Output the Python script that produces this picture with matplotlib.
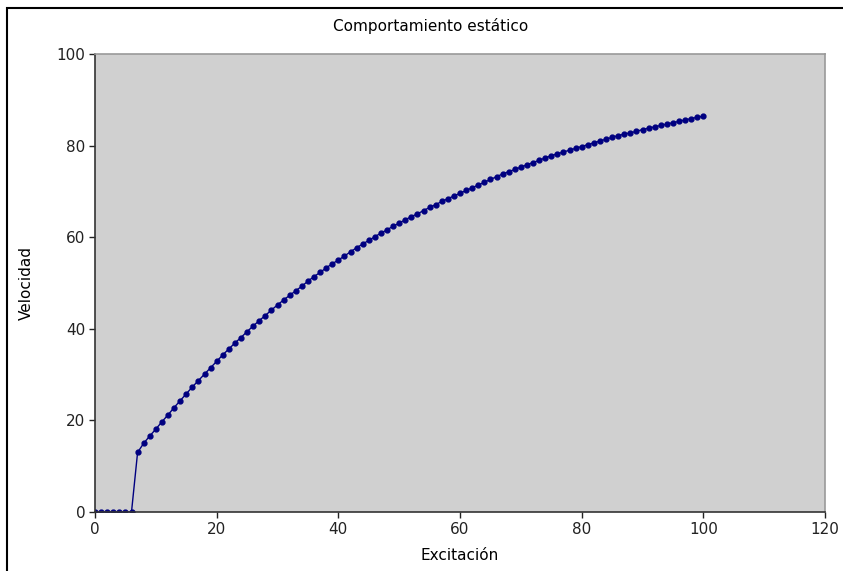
import numpy as np
import matplotlib.pyplot as plt
from matplotlib.patches import Rectangle

# Excitación (0..100) y velocidad
excitacion = list(range(0, 101))
velocidad = [
    0, 0, 0, 0, 0, 0, 0,
    13.0, 15.0, 16.6, 18.1, 19.7, 21.2, 22.8, 24.3, 25.8, 27.3,
    28.7, 30.1, 31.5, 32.9, 34.3, 35.6, 36.9, 38.1, 39.4, 40.6,
    41.8, 42.9, 44.1, 45.2, 46.3, 47.3, 48.3, 49.3, 50.4, 51.4,
    52.3, 53.3, 54.2, 55.0, 55.9, 56.8, 57.7, 58.5, 59.3, 60.1,
    60.9, 61.6, 62.4, 63.1, 63.8, 64.5, 65.1, 65.8, 66.5, 67.1,
    67.8, 68.4, 69.0, 69.6, 70.2, 70.8, 71.4, 72.0, 72.6, 73.2,
    73.8, 74.3, 74.8, 75.3, 75.8, 76.3, 76.8, 77.3, 77.8, 78.2,
    78.6, 79.0, 79.4, 79.8, 80.2, 80.6, 81.0, 81.4, 81.8, 82.2,
    82.5, 82.8, 83.1, 83.5, 83.8, 84.1, 84.4, 84.7, 85.0, 85.3,
    85.6, 85.9, 86.2, 86.4,
]
xticks = [0, 20, 40, 60, 80, 100, 120]
yticks = [0, 20, 40, 60, 80, 100]

fig = plt.figure(figsize=(8.43, 5.71), dpi=100)
ax = fig.add_axes([95 / 843, 1 - 512 / 571, 730 / 843, 458 / 571])
ax.set_facecolor('#d0d0d0')

ax.plot(excitacion, velocidad, color='#000080', lw=1, marker='o', ms=3.5)

ax.set_xlim(0, 120)
ax.set_ylim(0, 100)
ax.set_xticks(xticks)
ax.set_yticks(yticks)
ax.tick_params(direction='out', length=4, width=1, labelsize=11, colors='#222222', pad=3)

for s in ['left', 'bottom']:
    ax.spines[s].set_color('#333333')
    ax.spines[s].set_linewidth(1.2)
for s in ['top', 'right']:
    ax.spines[s].set_color('#999999')
    ax.spines[s].set_linewidth(1.2)

ax.set_xlabel('Excitación', fontsize=11, labelpad=8)
ax.set_ylabel('Velocidad', fontsize=11, labelpad=16)
fig.text(431 / 843, 1 - 26 / 571, 'Comportamiento estático', ha='center', va='center', fontsize=11)

# borde exterior
fig.add_artist(Rectangle((7 / 843, -0.1), 1.2, 1.1 - 8 / 571, transform=fig.transFigure,
                         fill=False, edgecolor='black', lw=1.5))

fig.savefig('out.png', dpi=100)
